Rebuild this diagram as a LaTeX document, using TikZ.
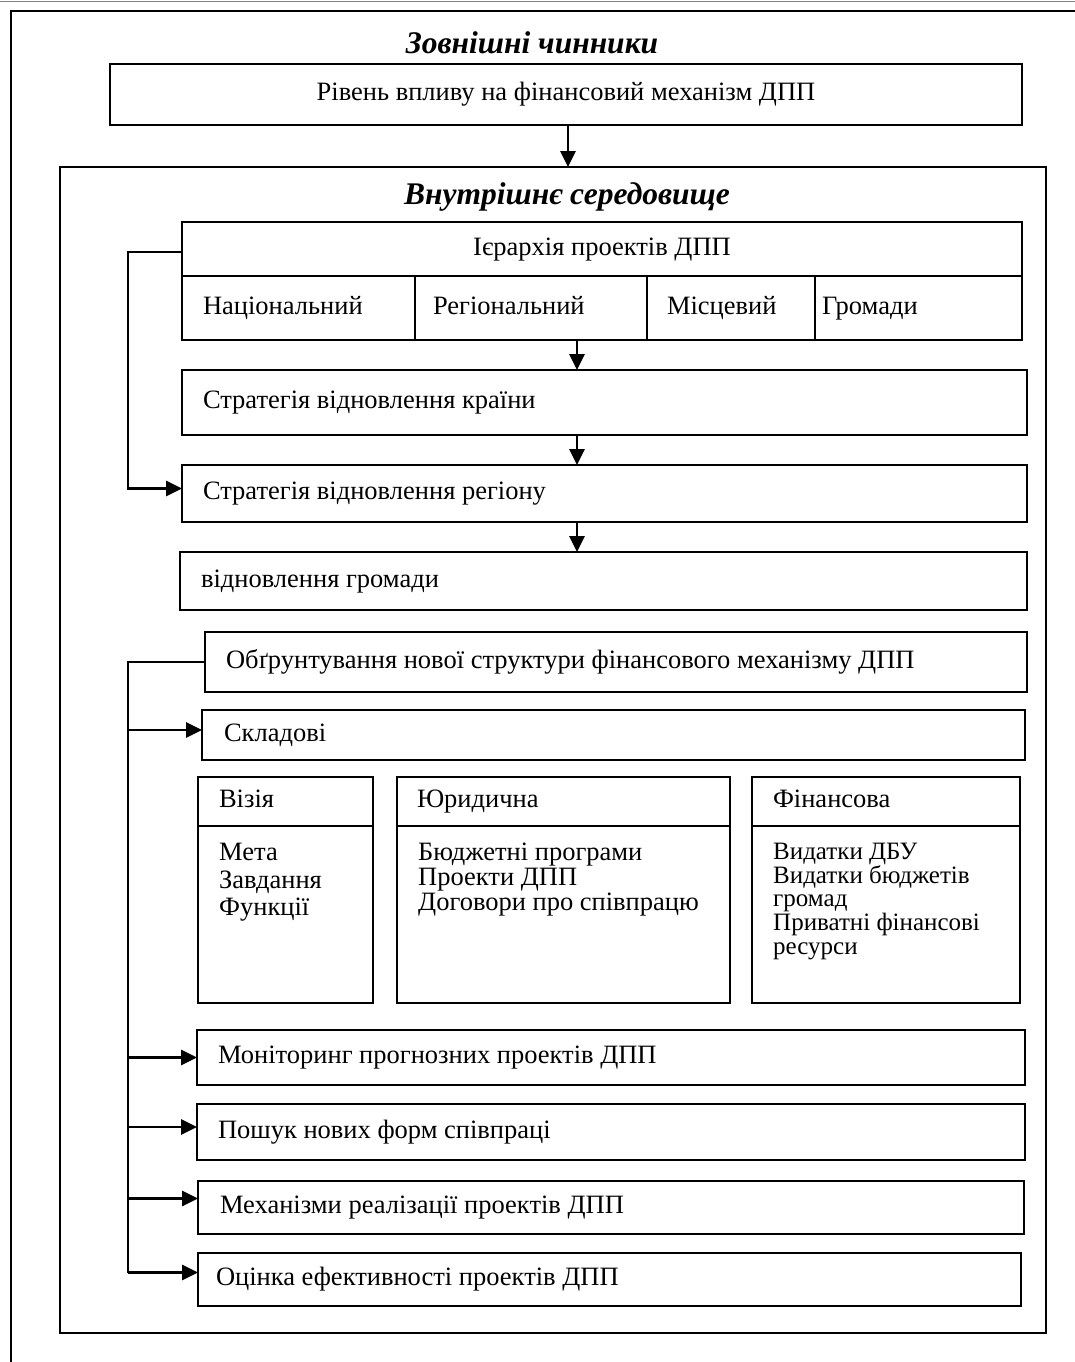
\documentclass[tikz,border=0pt]{standalone}
\usepackage{fontspec}
\setmainfont{Liberation Serif}
\usetikzlibrary{arrows.meta}
\newcommand\myfs{\fontsize{26.5}{30}\selectfont}
\newcommand\myts{\fontsize{31.5}{35}\selectfont\bfseries\itshape}
% \mkbox[opts]{name}{x1}{y1}{x2}{y2}{indent}{text}
\newcommand\mkbox[8][align=flush left]{%
  \pgfmathsetmacro\mytw{#5-#3-2*#7}%
  \pgfmathsetmacro\mymw{#5-#3}%
  \pgfmathsetmacro\mymh{#6-#4}%
  \node[bx, text width=\mytw pt, inner xsep=#7pt, inner ysep=0pt,
        minimum width=\mymw pt, minimum height=\mymh pt, #1] (#2) at (#3,#4) {#8};}
\begin{document}
\begin{tikzpicture}[x=1pt,y=-1pt,
  bx/.style={draw, line width=2.8pt, rectangle, anchor=north west, outer sep=0pt,
             font=\myfs, text height=18.5pt, text depth=6.5pt},
  ln/.style={line width=2.8pt},
  arr/.style={line width=2.8pt, -{Triangle[length=16pt,width=15pt]}},
  ttl/.style={font=\myts, inner sep=0pt},
  body/.style={anchor=north west, inner sep=0pt, align=flush left}
]
\useasboundingbox (0,0) rectangle (1075,1362);
\draw[gray, line width=1.5pt] (0,1.5) -- (1075,1.5);
\draw[line width=2.8pt] (11,1362) -- (11,11) -- (1075,11);

\node[ttl] (t1) at (532,43) {Зовнішні чинники};
\mkbox[align=flush center]{r1}{110}{64}{1022}{125}{0}{Рівень впливу на фінансовий механізм ДПП}

\node[bx, minimum width=986pt, minimum height=1166pt, text height=, text depth=] (frame) at (60,167) {};
\node[ttl] (t2) at (567,197) {Внутрішнє середовище};

\mkbox[align=flush center]{hdr}{182}{222}{1022}{276}{0}{Ієрархія проектів ДПП}
\mkbox{c1}{182}{276}{415}{340}{21}{Національний}
\mkbox{c2}{415}{276}{647}{340}{18}{Регіональний}
\mkbox{c3}{647}{276}{815}{340}{20}{Місцевий}
\mkbox{c4}{815}{276}{1022}{340}{7}{Громади}

\mkbox{s1}{182}{370}{1027}{435}{21}{Стратегія відновлення країни}
\mkbox{s2}{182}{465}{1027}{522}{21}{Стратегія відновлення регіону}
\mkbox{s3}{180}{552}{1027}{610}{21}{відновлення громади}

\mkbox{ob}{205}{632}{1027}{692}{21}{Обґрунтування нової структури фінансового механізму ДПП}
\mkbox{skl}{202}{710}{1025}{760}{22}{Складові}

\mkbox{vh}{198}{777}{373}{826}{21}{Візія}
\mkbox{vb}{198}{826}{373}{1003}{21}{}
\mkbox{yh}{397}{777}{730}{826}{20}{Юридична}
\mkbox{yb}{397}{826}{730}{1003}{20}{}
\mkbox{fh}{752}{777}{1020}{826}{21}{Фінансова}
\mkbox{fb}{752}{826}{1020}{1003}{21}{}

\node[body, font=\fontsize{26.5}{27.5}\selectfont] (vt) at (219,843) {Мета\\Завдання\\Функції};
\node[body, font=\fontsize{26.5}{25}\selectfont] (yt) at (418,843) {Бюджетні програми\\Проекти ДПП\\Договори про співпрацю};
\node[body, font=\fontsize{25}{23.7}\selectfont] (ft) at (773,843) {Видатки ДБУ\\Видатки бюджетів\\громад\\Приватні фінансові\\ресурси};

\mkbox{mon}{197}{1030}{1025}{1085}{21}{Моніторинг прогнозних проектів ДПП}
\mkbox{posh}{197}{1104}{1025}{1160}{21}{Пошук нових форм співпраці}
\mkbox{mech}{198}{1181}{1024}{1234}{22}{Механізми реалізації проектів ДПП}
\mkbox{ots}{198}{1253}{1021}{1306}{18}{Оцінка ефективності проектів ДПП}

% vertical arrows
\draw[arr] ([xshift=2pt]r1.south) -- ([xshift=2pt]r1.south |- frame.north);
\draw[arr] ([xshift=-27.5pt]s1.north |- c2.south) -- ([xshift=-27.5pt]s1.north);
\draw[arr] ([xshift=-27.5pt]s1.south) -- ([xshift=-27.5pt]s2.north);
\draw[arr] ([xshift=-27.5pt]s2.south) -- ([xshift=-27.5pt]s2.south |- s3.north);

% bracket 1
\coordinate (hstart) at ([yshift=-3pt]hdr.west);
\coordinate (as2) at ([yshift=5pt]s2.west);
\draw[arr] (hstart) -- ++(-54,0) |- (as2);

% bracket 2 entry points
\coordinate (askl) at ([yshift=5pt]skl.west);
\coordinate (amon) at (mon.west);
\coordinate (aposh) at ([yshift=5pt]posh.west);
\coordinate (amech) at ([yshift=9pt]mech.west);
\coordinate (aots) at ([yshift=7pt]ots.west);
\draw[ln] (ob.west) -- ++(-77,0) coordinate (b2) -- (b2 |- aots);
\draw[arr] (b2 |- askl) -- (askl);
\draw[arr] (b2 |- amon) -- (amon);
\draw[arr] (b2 |- aposh) -- (aposh);
\draw[arr] (b2 |- amech) -- (amech);
\draw[arr] (b2 |- aots) -- (aots);
\end{tikzpicture}
\end{document}
